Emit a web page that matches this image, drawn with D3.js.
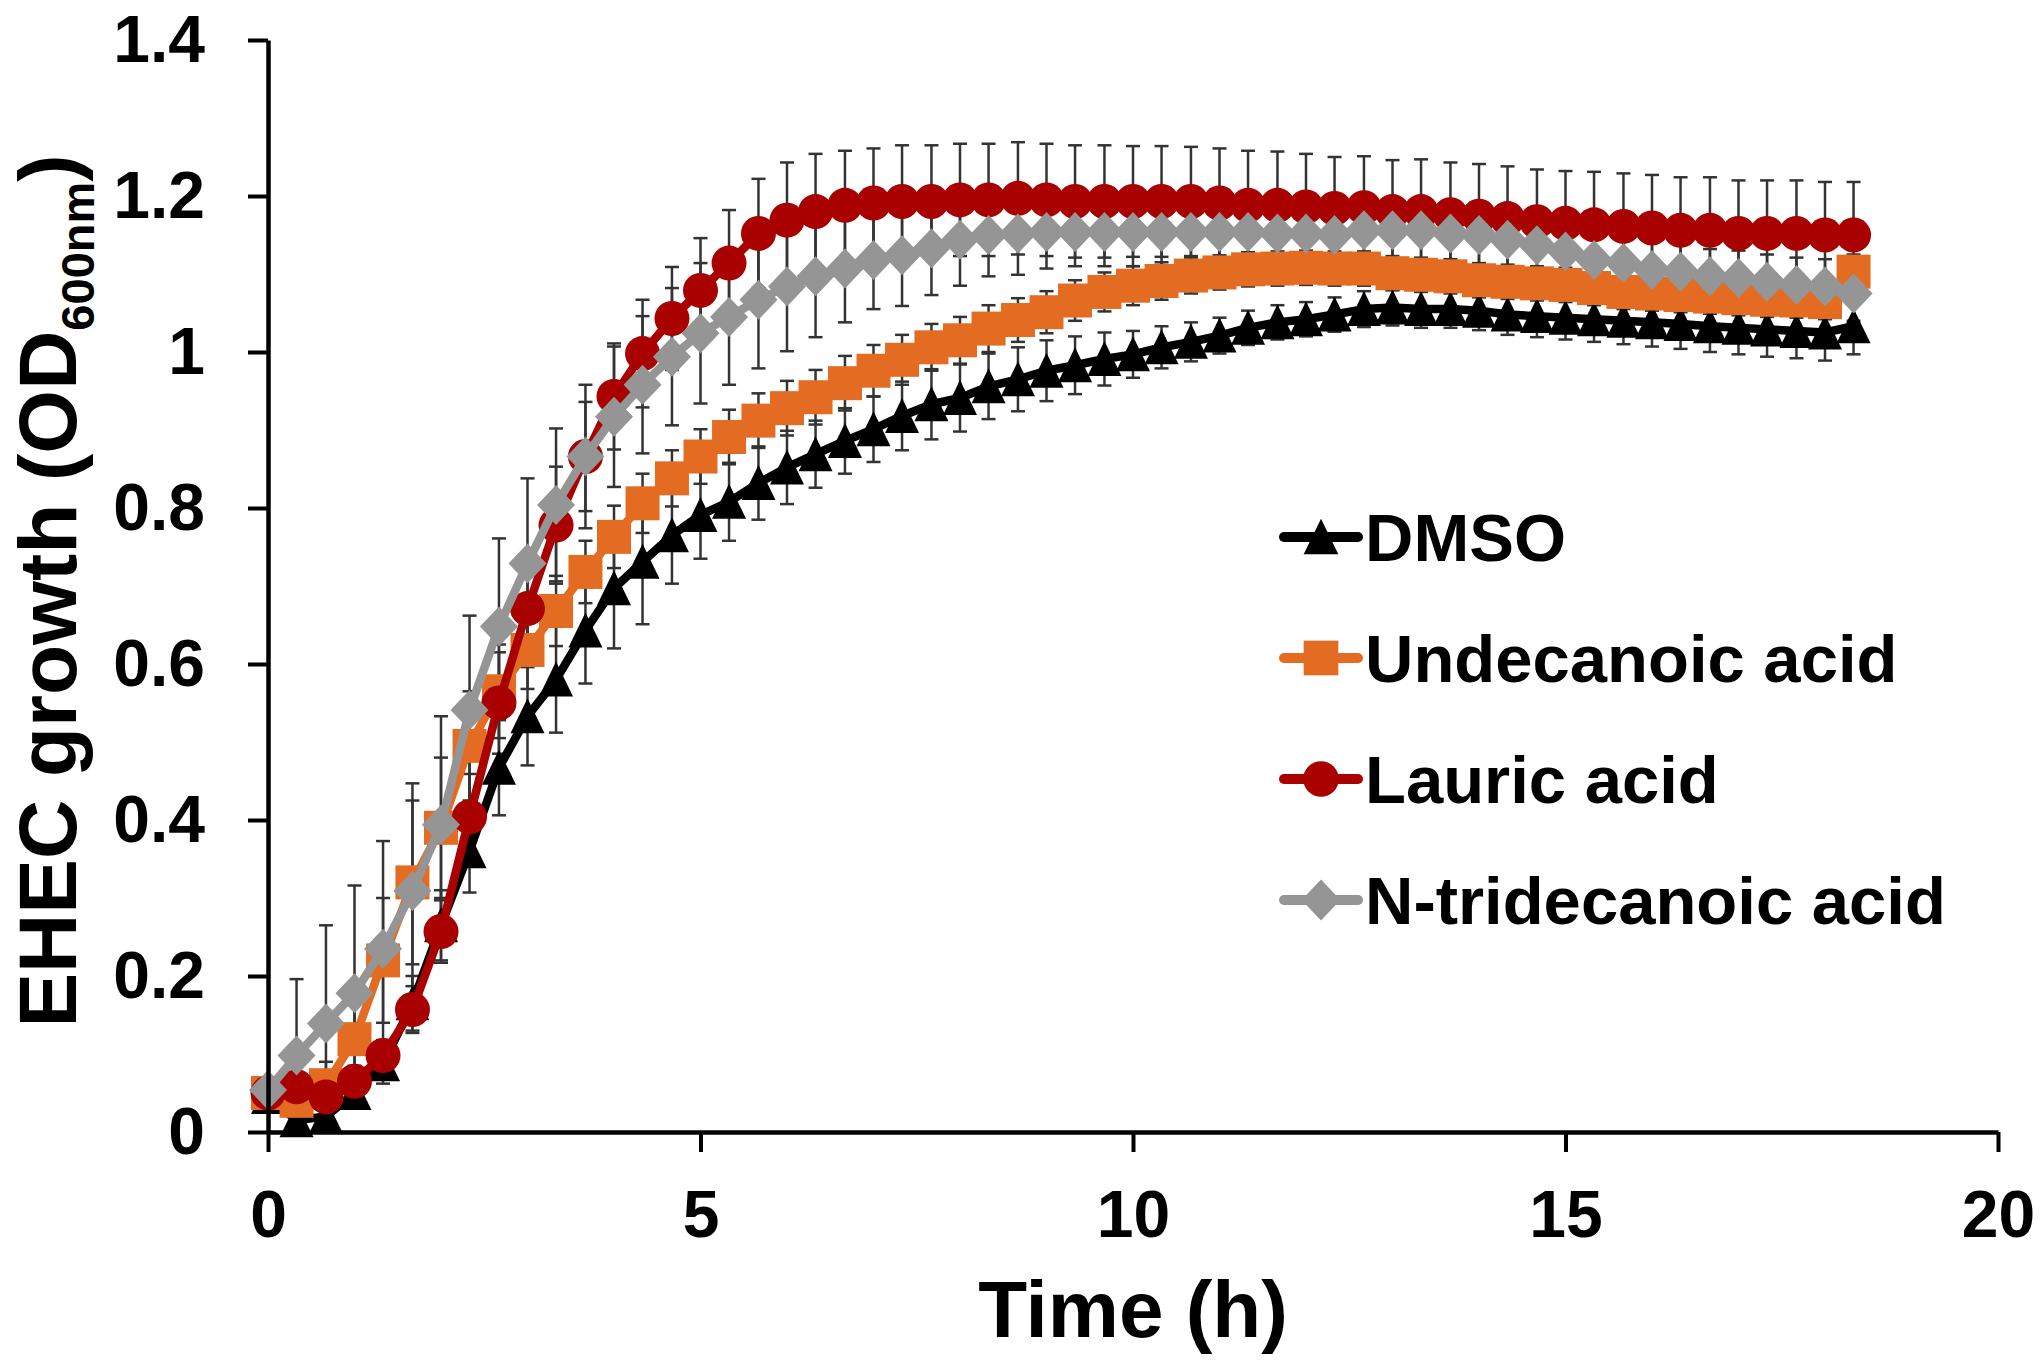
<!DOCTYPE html>
<html>
<head>
<meta charset="utf-8">
<script src="https://cdn.jsdelivr.net/npm/d3@7"></script>
<style>
  html, body { margin: 0; padding: 0; background: #fff; }
  svg text { font-family: "Liberation Sans", Arial, Helvetica, sans-serif; font-weight: bold; }
</style>
</head>
<body>
<div id="growthChart"></div>
<script>
// sampling times (h), every 20 min
const times = [
  0, 0.33, 0.67, 1, 1.33, 1.67, 2, 2.33, 2.67, 3, 3.33, 3.67,
  4, 4.33, 4.67, 5, 5.33, 5.67, 6, 6.33, 6.67, 7, 7.33, 7.67,
  8, 8.33, 8.67, 9, 9.33, 9.67, 10, 10.33, 10.67, 11, 11.33, 11.67,
  12, 12.33, 12.67, 13, 13.33, 13.67, 14, 14.33, 14.67, 15, 15.33, 15.67,
  16, 16.33, 16.67, 17, 17.33, 17.67, 18, 18.33
]

const seriesNames = ["DMSO", "Undecanoic acid", "Lauric acid", "N-tridecanoic acid"]

const dmso = [
  0.045, 0.015, 0.02, 0.05, 0.087, 0.165,
  0.265, 0.36, 0.467, 0.533, 0.58, 0.643,
  0.697, 0.731, 0.765, 0.791, 0.808, 0.832,
  0.852, 0.869, 0.886, 0.901, 0.918, 0.933,
  0.941, 0.956, 0.965, 0.976, 0.983, 0.991,
  0.997, 1.006, 1.013, 1.021, 1.031, 1.038,
  1.042, 1.048, 1.055, 1.057, 1.055, 1.055,
  1.053, 1.048, 1.046, 1.044, 1.042, 1.04,
  1.038, 1.036, 1.033, 1.031, 1.029, 1.027,
  1.025, 1.033
]
const dmsoSd = [
  0.005, 0.01, 0.01, 0.015, 0.025, 0.035,
  0.045, 0.053, 0.061, 0.063, 0.068, 0.068,
  0.077, 0.08, 0.062, 0.056, 0.05, 0.047,
  0.047, 0.043, 0.042, 0.042, 0.044, 0.045,
  0.043, 0.042, 0.041, 0.039, 0.037, 0.034,
  0.03, 0.027, 0.025, 0.023, 0.022, 0.022,
  0.022, 0.022, 0.023, 0.023, 0.024, 0.024,
  0.025, 0.026, 0.027, 0.028, 0.029, 0.03,
  0.031, 0.032, 0.033, 0.034, 0.035, 0.035,
  0.036, 0.036
]

const undecanoic = [
  0.05, 0.04, 0.06, 0.119, 0.22, 0.32,
  0.39, 0.495, 0.565, 0.618, 0.668, 0.718,
  0.763, 0.806, 0.838, 0.866, 0.891, 0.912,
  0.928, 0.942, 0.96, 0.976, 0.99, 1.006,
  1.015, 1.03, 1.041, 1.051, 1.066, 1.077,
  1.085, 1.091, 1.098, 1.102, 1.106, 1.107,
  1.108, 1.107, 1.107, 1.101, 1.099, 1.097,
  1.092, 1.09, 1.088, 1.086, 1.082, 1.077,
  1.075, 1.073, 1.071, 1.069, 1.067, 1.066,
  1.064, 1.103
]
const undecanoicSd = [
  0.005, 0.02, 0.03, 0.05, 0.08, 0.105,
  0.09, 0.07, 0.06, 0.05, 0.045, 0.04,
  0.04, 0.038, 0.036, 0.035, 0.035, 0.035,
  0.035, 0.035, 0.035, 0.033, 0.032, 0.03,
  0.03, 0.03, 0.028, 0.027, 0.026, 0.025,
  0.025, 0.024, 0.023, 0.022, 0.022, 0.022,
  0.022, 0.022, 0.022, 0.022, 0.022, 0.022,
  0.022, 0.022, 0.022, 0.022, 0.022, 0.022,
  0.022, 0.022, 0.022, 0.022, 0.022, 0.022,
  0.022, 0.022
]

const lauric = [
  0.05, 0.058, 0.045, 0.065, 0.098, 0.157,
  0.257, 0.404, 0.55, 0.671, 0.778, 0.866,
  0.943, 0.998, 1.043, 1.079, 1.114, 1.152,
  1.169, 1.18, 1.188, 1.191, 1.193, 1.193,
  1.195, 1.195, 1.197, 1.195, 1.193, 1.193,
  1.193, 1.193, 1.193, 1.191, 1.188, 1.188,
  1.186, 1.184, 1.185, 1.18, 1.18, 1.176,
  1.174, 1.171, 1.167, 1.165, 1.163, 1.161,
  1.159, 1.156, 1.156, 1.152, 1.152, 1.152,
  1.15, 1.15
]
const lauricSd = [
  0.01, 0.015, 0.015, 0.02, 0.02, 0.03,
  0.04, 0.055, 0.065, 0.07, 0.075, 0.07,
  0.068, 0.069, 0.066, 0.067, 0.068, 0.07,
  0.074, 0.074, 0.07, 0.07, 0.072, 0.072,
  0.072, 0.072, 0.072, 0.072, 0.072, 0.072,
  0.071, 0.071, 0.07, 0.07, 0.07, 0.069,
  0.068, 0.066, 0.066, 0.066, 0.067, 0.067,
  0.067, 0.067, 0.067, 0.067, 0.068, 0.068,
  0.068, 0.068, 0.068, 0.068, 0.068, 0.068,
  0.068, 0.068
]

const tridecanoic = [
  0.054, 0.098, 0.139, 0.178, 0.235, 0.309,
  0.394, 0.541, 0.648, 0.729, 0.804, 0.866,
  0.917, 0.958, 0.994, 1.024, 1.045, 1.067,
  1.084, 1.097, 1.107, 1.118, 1.124, 1.133,
  1.144, 1.15, 1.152, 1.154, 1.154, 1.154,
  1.154, 1.154, 1.154, 1.154, 1.154, 1.152,
  1.152, 1.15, 1.156, 1.156, 1.156, 1.152,
  1.15, 1.144, 1.137, 1.129, 1.118, 1.114,
  1.105, 1.103, 1.097, 1.095, 1.09, 1.086,
  1.084, 1.075
]
const tridecanoicSd = [
  0.005, 0.098, 0.126, 0.138, 0.138, 0.138,
  0.139, 0.121, 0.113, 0.109, 0.098, 0.092,
  0.09, 0.088, 0.088, 0.09, 0.087, 0.088,
  0.083, 0.078, 0.069, 0.063, 0.065, 0.06,
  0.059, 0.053, 0.053, 0.047, 0.044, 0.044,
  0.044, 0.044, 0.044, 0.044, 0.044, 0.043,
  0.043, 0.042, 0.042, 0.041, 0.04, 0.04,
  0.04, 0.039, 0.038, 0.038, 0.037, 0.036,
  0.036, 0.036, 0.035, 0.035, 0.035, 0.035,
  0.035, 0.035
]

const yTicks = [0, 0.2, 0.4, 0.6, 0.8, 1, 1.2, 1.4]
const xTicks = [0, 5, 10, 15, 20]

// styles, in series order
const colors = ["#000000", "#E46C22", "#A90000", "#959595"]
const markerTypes = ["triangle", "square", "circle", "diamond"]

const width = 2040
const height = 1364

const series = [
    { name: seriesNames[0], values: dmso, sd: dmsoSd },
    { name: seriesNames[1], values: undecanoic, sd: undecanoicSd },
    { name: seriesNames[2], values: lauric, sd: lauricSd },
    { name: seriesNames[3], values: tridecanoic, sd: tridecanoicSd }
].map((s, i) => ({
    ...s,
    color: colors[i],
    marker: markerTypes[i],
    points: times.map((t, j) => ({ t: t, v: s.values[j], sd: s.sd[j] }))
}))

const x = d3.scaleLinear().domain([0, 20]).range([268, 1998])
const y = d3.scaleLinear().domain([0, 1.4]).range([1132, 40])

const svg = d3.select("#growthChart")
    .append("svg")
    .attr("width", width)
    .attr("height", height)
    .attr("viewBox", [0, 0, width, height])

svg.append("rect").attr("width", width).attr("height", height).attr("fill", "#fff")

// marker shapes drawn around (0,0)
const markerShape = (sel, type, k) => {
    k = k || 1
    if (type === "circle") {
        sel.append("circle").attr("r", 17.5 * k)
    } else if (type === "square") {
        sel.append("rect").attr("x", -17 * k).attr("y", -17 * k).attr("width", 34 * k).attr("height", 34 * k)
    } else if (type === "triangle") {
        sel.append("path").attr("d", `M0,${-18 * k}L${17 * k},${17 * k}L${-17 * k},${17 * k}Z`)
    } else {
        sel.append("path").attr("d", `M0,${-20 * k}L${19 * k},0L0,${20 * k}L${-19 * k},0Z`)
    }
}

// error bars, behind everything
const errG = svg.append("g")
    .attr("stroke", "#333")
    .attr("stroke-width", 2.5)
    .attr("fill", "none")

series.forEach(s => {
    const bars = errG.append("g")
        .selectAll("g")
        .data(s.points.filter(p => p.sd > 0.008))
        .join("g")
    bars.append("line")
        .attr("x1", d => x(d.t)).attr("x2", d => x(d.t))
        .attr("y1", d => y(d.v - d.sd)).attr("y2", d => y(d.v + d.sd))
    bars.append("line")
        .attr("x1", d => x(d.t) - 7).attr("x2", d => x(d.t) + 7)
        .attr("y1", d => y(d.v + d.sd)).attr("y2", d => y(d.v + d.sd))
    bars.append("line")
        .attr("x1", d => x(d.t) - 7).attr("x2", d => x(d.t) + 7)
        .attr("y1", d => y(d.v - d.sd)).attr("y2", d => y(d.v - d.sd))
})

const line = d3.line()
    .x(d => x(d.t))
    .y(d => y(d.v))

series.forEach(s => {
    const g = svg.append("g")
    g.append("path")
        .datum(s.points)
        .attr("fill", "none")
        .attr("stroke", s.color)
        .attr("stroke-width", 8.5)
        .attr("stroke-linejoin", "round")
        .attr("d", line)
    g.append("g")
        .attr("fill", s.color)
        .selectAll("g")
        .data(s.points)
        .join("g")
        .attr("transform", d => `translate(${x(d.t)},${y(d.v)})`)
        .each(function () { markerShape(d3.select(this), s.marker) })
})

// axes
const fontFamily = '"Liberation Sans", Arial, Helvetica, sans-serif'

const yAxis = svg.append("g")
    .attr("transform", `translate(${x(0)},0)`)
    .call(d3.axisLeft(y)
        .tickValues(yTicks)
        .tickSize(20)
        .tickSizeOuter(0)
        .tickPadding(43)
        .tickFormat(d3.format("~g")))

const xAxis = svg.append("g")
    .attr("transform", `translate(0,${y(0)})`)
    .call(d3.axisBottom(x)
        .tickValues(xTicks)
        .tickSize(20)
        .tickSizeOuter(0)
        .tickPadding(38)
        .tickFormat(d3.format("~g")))

;[xAxis, yAxis].forEach(a => {
    a.attr("font-family", fontFamily).attr("font-size", 66).attr("font-weight", "bold")
    a.select(".domain").attr("stroke", "#000").attr("stroke-width", 4.5)
    a.selectAll(".tick line").attr("stroke", "#000").attr("stroke-width", 4)
    a.selectAll(".tick text").attr("fill", "#000")
})

// axis titles
svg.append("text")
    .attr("x", (x(0) + x(20)) / 2)
    .attr("y", 1337)
    .attr("text-anchor", "middle")
    .style("font-size", "80px")
    .text("Time (h)")

const yTitle = svg.append("text")
    .attr("transform", "translate(76,591) rotate(-90)")
    .attr("text-anchor", "middle")
    .style("font-size", "82px")
yTitle.append("tspan").text("EHEC growth (OD")
yTitle.append("tspan").attr("dy", 18).style("font-size", "47px").text("600nm")
yTitle.append("tspan").attr("dy", -18).text(")")

// legend
const legendTop = 537
const legendStep = 121
const legend = svg.append("g")
    .selectAll("g")
    .data(series)
    .join("g")
    .attr("transform", (d, i) => `translate(1284,${legendTop + i * legendStep})`)

legend.append("line")
    .attr("x1", 0).attr("x2", 74)
    .attr("stroke", d => d.color)
    .attr("stroke-width", 10)
    .attr("stroke-linecap", "round")

legend.append("g")
    .attr("transform", "translate(37,0)")
    .attr("fill", d => d.color)
    .each(function (d) { markerShape(d3.select(this), d.marker, 1.02) })

legend.append("text")
    .attr("x", 81)
    .attr("y", 23.5)
    .style("font-size", "67px")
    .attr("fill", "#000")
    .text(d => d.name)
</script>
</body>
</html>
